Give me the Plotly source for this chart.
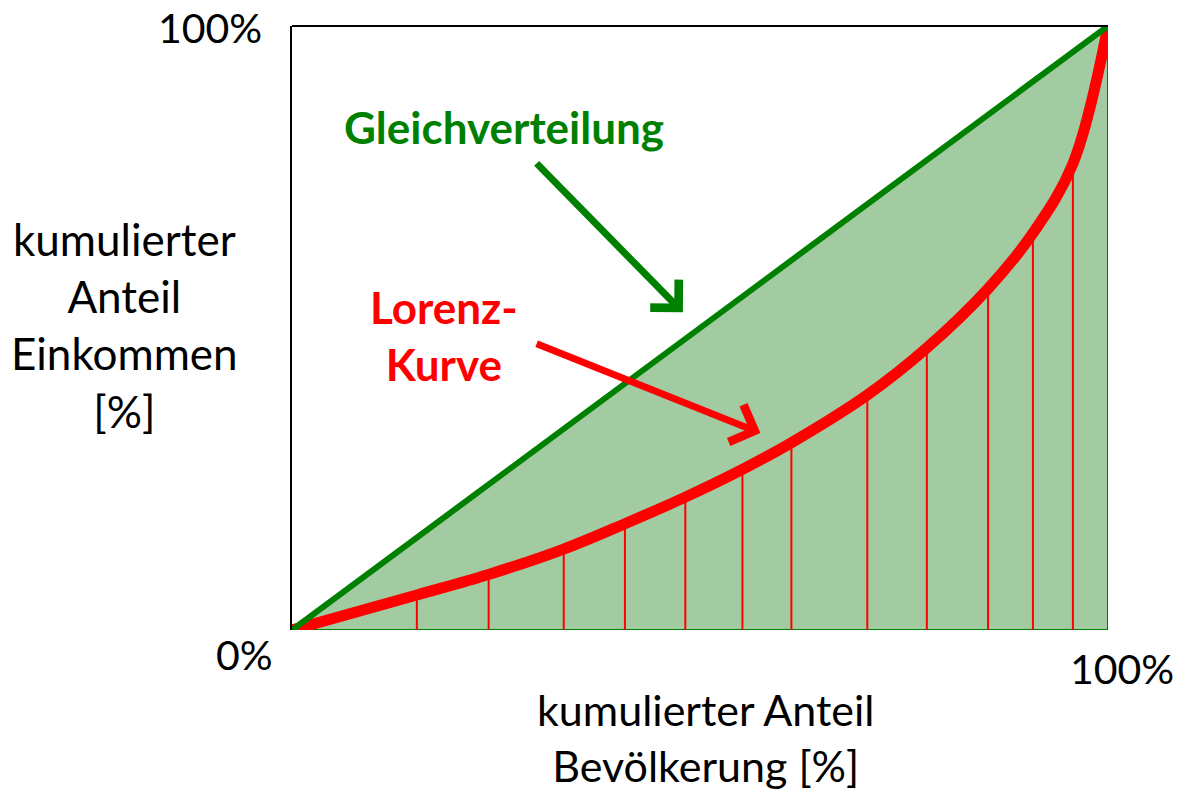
import plotly.graph_objects as go

# Lorenz curve: cumulative population share vs. cumulative income share
pop_share = [0.0, 0.153, 0.241, 0.333, 0.408, 0.482, 0.552, 0.612, 0.705, 0.778, 0.853, 0.908, 0.957, 1.0]
income_share = [0.0, 0.058, 0.092, 0.134, 0.176, 0.220, 0.266, 0.310, 0.389, 0.467, 0.565, 0.657, 0.772, 1.0]

# Line of perfect equality
equal_x = [0.0, 1.0]
equal_y = [0.0, 1.0]

tick_text = ["0%", "100%"]

GREEN = "#008000"
RED = "#FF0000"
FILL = "#A2CBA2"
FONT = "Lato"

fig = go.Figure()

# Shaded triangle below the equality line
fig.add_trace(go.Scatter(
    x=[equal_x[0], equal_x[1], equal_x[1], equal_x[0]],
    y=[equal_y[0], equal_y[0], equal_y[1], equal_y[0]],
    mode="lines", fill="toself", fillcolor=FILL,
    line=dict(color=GREEN, width=2), hoverinfo="skip", showlegend=False,
))

# Thin verticals from the baseline up to each Lorenz point
vx, vy = [], []
for px, py in zip(pop_share[1:], income_share[1:]):
    vx += [px, px, None]
    vy += [0, py, None]
fig.add_trace(go.Scatter(
    x=vx, y=vy, mode="lines", line=dict(color=RED, width=2),
    hoverinfo="skip", showlegend=False,
))

# Lorenz curve
fig.add_trace(go.Scatter(
    x=pop_share, y=income_share, mode="lines",
    line=dict(color=RED, width=11, shape="spline", smoothing=1.0),
    showlegend=False,
))

# Equality diagonal
fig.add_trace(go.Scatter(
    x=equal_x, y=equal_y, mode="lines",
    line=dict(color=GREEN, width=6), showlegend=False,
))


def label(x, y, text, size, color, data=False):
    return dict(x=x, y=y, xref="x" if data else "paper", yref="y" if data else "paper",
                text=text, showarrow=False, xanchor="center", yanchor="middle",
                font=dict(family=FONT, size=size, color=color))


def arrow(x, y, ax, ay, color):
    return dict(x=x, y=y, ax=ax, ay=ay, xref="x", yref="y", axref="x", ayref="y",
                text="", showarrow=True, arrowhead=4, arrowsize=1.1, arrowwidth=7,
                arrowcolor=color, standoff=0)


annotations = [
    label(0.26, 0.833, "<b>Gleichverteilung</b>", 44, GREEN, data=True),
    arrow(0.479, 0.526, 0.298, 0.775, GREEN),
    label(0.186, 0.487, "<b>Lorenz-<br>Kurve</b>", 44, RED, data=True),
    arrow(0.574, 0.326, 0.298, 0.475, RED),
    # axis end labels
    label(-0.1005, 0.998, "100%", 41, "black"),
    label(-0.0576, -0.041, tick_text[0], 41, "black"),
    label(1.017, -0.063, tick_text[1], 41, "black"),
    # axis titles
    label(-0.2047, 0.505, "kumulierter<br>Anteil<br>Einkommen<br>[%]", 44, "black"),
    label(0.507, -0.178, "kumulierter Anteil<br>Bevölkerung [%]", 43, "black"),
]

fig.update_layout(
    width=1178, height=794,
    margin=dict(l=292, r=70, t=26, b=164),
    paper_bgcolor="white", plot_bgcolor="white",
    xaxis=dict(range=[0, 1], showgrid=False, zeroline=False, showticklabels=False,
               ticks="", showline=False, fixedrange=True),
    yaxis=dict(range=[0, 1], showgrid=False, zeroline=False, showticklabels=False,
               ticks="", showline=True, linecolor="black", linewidth=2, fixedrange=True),
    annotations=annotations,
    shapes=[dict(type="line", xref="paper", yref="paper", x0=0, x1=1, y0=1, y1=1,
                 line=dict(color="black", width=2))],
    showlegend=False,
)

fig.write_html("out.html")
